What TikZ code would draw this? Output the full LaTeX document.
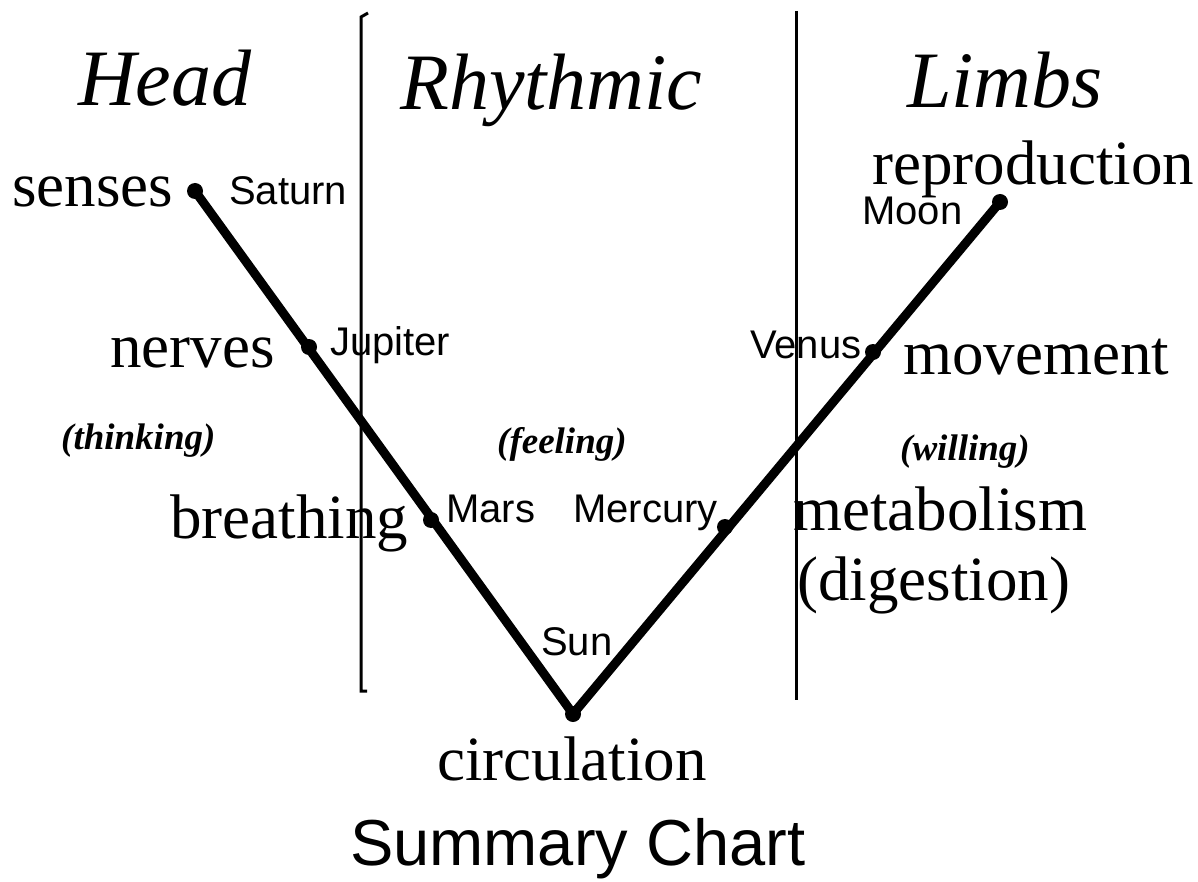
\documentclass[tikz,border=0pt]{standalone}
\usepackage{fontspec}
\setmainfont{Liberation Serif}
\newfontfamily\planetfont{Liberation Sans}
\begin{document}
\begin{tikzpicture}[x=1pt,y=-1pt,
  lbl/.style={anchor=base west,inner sep=0pt,font=\fontsize{63}{70}\selectfont},
  ttl/.style={anchor=base west,inner sep=0pt,font=\fontsize{80}{90}\selectfont\itshape},
  pln/.style={anchor=base west,inner sep=0pt,font=\fontsize{40}{46}\selectfont\planetfont},
  mood/.style={anchor=base west,inner sep=0pt,font=\fontsize{37}{42}\selectfont\bfseries\itshape},
  vline/.style={line width=9pt,line cap=round,line join=round},
  divider/.style={line width=3pt},
  pt/.style={circle,fill=black,inner sep=0pt,minimum size=16pt}]
\useasboundingbox[fill=white] (0,0) rectangle (1198,882);
% dividers
\draw[divider] (368,13) -- (361,17) -- (361,691) -- (367,691);
\draw[divider] (796,11) -- (796,700);
% V points
\node[pt] (senses) at (195,191) {};
\node[pt] (jup) at (309,347) {};
\node[pt] (mars) at (431,520) {};
\node[pt] (sun) at (573,714) {};
\node[pt] (merc) at (725,527) {};
\node[pt] (venus) at (873,352) {};
\node[pt] (moon) at (1000,202) {};
\draw[vline] (senses.center) -- (sun.center) -- (moon.center);
% titles
\node[ttl] (head) at (78,106) {Head};
\node[ttl] (rhy) at (400,110) {Rhythmic};
\node[ttl] (limbs) at (907,108) {Limbs};
% labels
\node[lbl] (tsenses) at (12,207) {senses};
\node[lbl] (tnerves) at (110,367) {nerves};
\node[lbl] (tbreath) at (170,538) {breathing};
\node[lbl] (trepro) at (872,185) {reproduction};
\node[lbl] (tmove) at (903,374) {movement};
\node[lbl] (tmeta) at (793,530) {metabolism};
\node[lbl] (tdig) at (797,600) {(digestion)};
\node[lbl] (tcirc) at (437,780) {circulation};
% planets
\node[pln] (psat) at (229,205) {Saturn};
\node[pln] (pjup) at (330,355) {Jupiter};
\node[pln] (pmars) at (446,522) {Mars};
\node[pln] (pmerc) at (573,522) {Mercury};
\node[pln] (psun) at (541,655) {Sun};
\node[pln] (pvenus) at (750,358) {Venus};
\node[pln] (pmoon) at (862,225) {Moon};
% moods
\node[mood] (think) at (61,449) {(thinking)};
\node[mood] (feel) at (497,453) {(feeling)};
\node[mood] (will) at (900,460) {(willing)};
% caption
\node[anchor=base west,inner sep=0pt,font=\fontsize{65}{72}\selectfont\planetfont] (cap) at (350,865) {Summary Chart};
\end{tikzpicture}
\end{document}
